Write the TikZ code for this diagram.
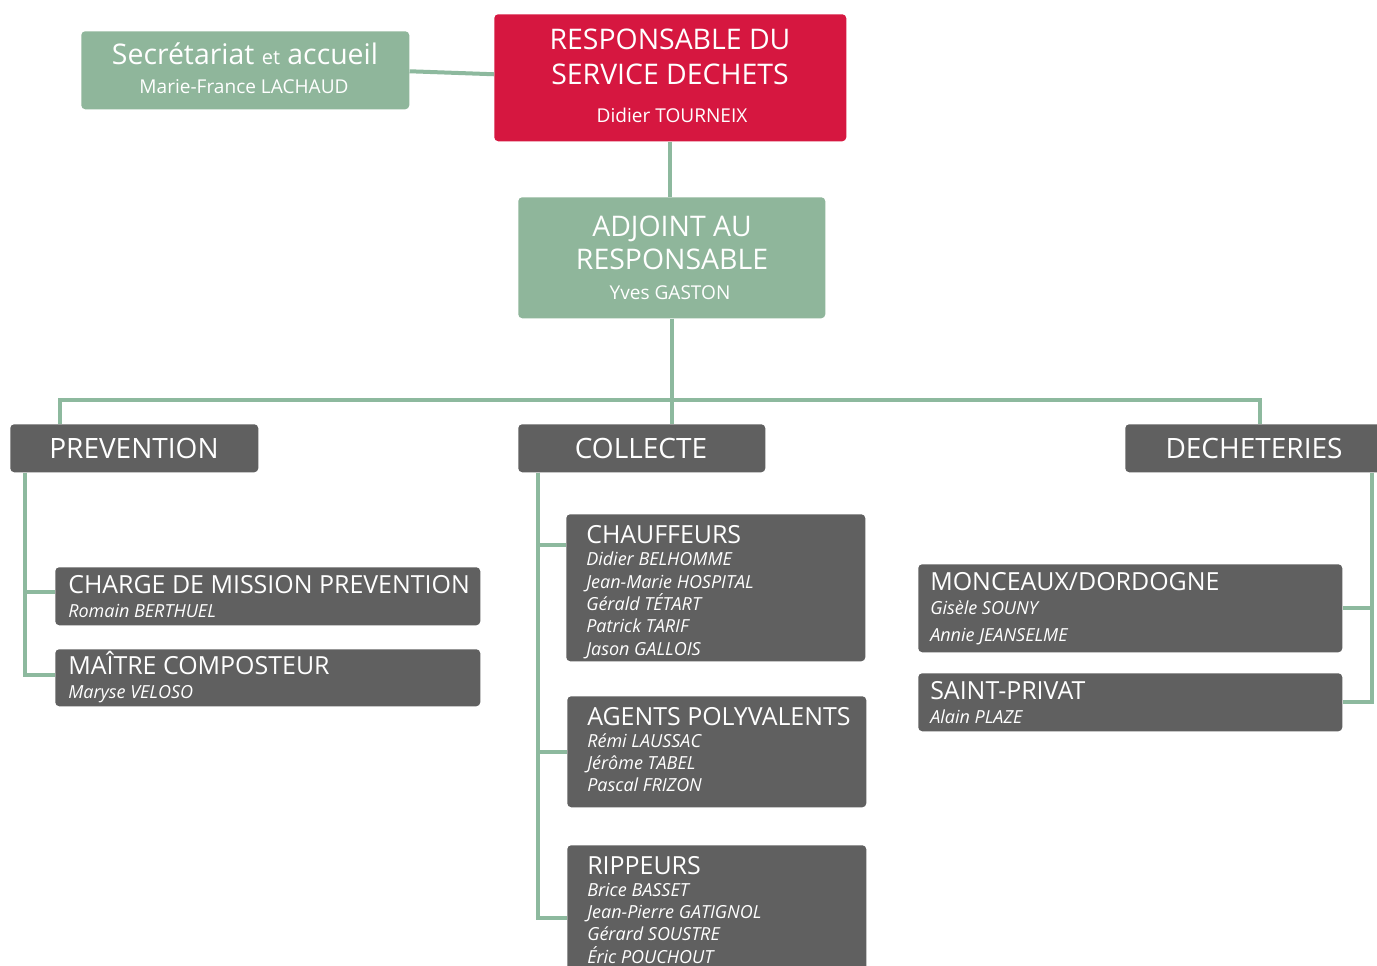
\documentclass[tikz,border=0pt]{standalone}
\usepackage{fontspec}
\setmainfont{Open Sans}
\usetikzlibrary{calc}
\definecolor{gfill}{HTML}{8FB69B}
\definecolor{rfill}{HTML}{D61740}
\definecolor{boxgray}{HTML}{606060}
\definecolor{linegreen}{HTML}{8DB99E}
\begin{document}
\begin{tikzpicture}[x=0.75pt,y=-0.75pt,
  box/.style={draw=none, rounded corners=3pt, inner sep=0pt, anchor=north west},
  gbox/.style={box, fill=boxgray},
  sz/.style 2 args={minimum width=#1*0.75pt, minimum height=#2*0.75pt},
  link/.style={draw=linegreen, line width=3pt},
  txt/.style={text=white, inner sep=0pt, anchor=base west},
  ctxt/.style={text=white, inner sep=0pt, anchor=base},
  big/.style={ctxt, font=\fontsize{21.3}{24}\selectfont},
  sub/.style={ctxt, font=\fontsize{14.3}{16}\selectfont},
  hdr/.style={ctxt, font=\fontsize{21}{24}\selectfont},
  ttl/.style={txt, font=\fontsize{18.7}{20}\selectfont},
  nm/.style={txt, font=\fontsize{13.5}{15}\selectfont\itshape},
]
\useasboundingbox[fill=white] (0,0) rectangle (1377,966);

% boxes
\node[box, fill=gfill, sz={328}{78}] (sec) at (81,31) {};
\node[box, fill=rfill, sz={352}{127}] (resp) at (494,14) {};
\node[box, fill=gfill, sz={307}{121}] (adj) at (518,197) {};
\node[gbox, sz={248}{48}] (prev) at (10,424) {};
\node[gbox, sz={247}{48}] (colle) at (518,424) {};
\node[gbox, sz={262}{48}] (dech) at (1125,424) {};
\node[gbox, sz={425}{58}] (charge) at (55,567) {};
\node[gbox, sz={425}{57}] (maitre) at (55,649) {};
\node[gbox, sz={299}{147}] (chauf) at (566,514) {};
\node[gbox, sz={299}{111}] (agents) at (567,696) {};
\node[gbox, sz={299}{140}] (rip) at (567,845) {};
\node[gbox, sz={424}{88}] (monc) at (918,564) {};
\node[gbox, sz={424}{58}] (sp) at (918,673) {};

% connectors
\draw[link] ($(sec.east)+(0,1)$) -- ($(resp.west)+(0,-3.5)$);
\draw[link] (resp.south) -- (resp.south |- adj.north);
\draw[link] (adj.south) -- (adj.south |- colle.north);
\coordinate (busy) at (0,400);
\draw[link] ($(prev.north west)+(50,0)$) |- (busy -| adj.south) -| ($(dech.north west)+(135,0)$);
\draw[link] ($(prev.south west)+(15,0)$) |- ($(maitre.north west)+(0,26)$);
\draw[link] ($(prev.south west)+(15,0)$) |- ($(charge.north west)+(0,25)$);
\draw[link] ($(colle.south west)+(20,0)$) |- ($(rip.north west)+(0,73)$);
\draw[link] ($(colle.south west)+(20,0)$) |- ($(chauf.north west)+(0,31)$);
\draw[link] ($(colle.south west)+(20,0)$) |- (agents.west);
\draw[link] ($(dech.south west)+(247,0)$) |- (sp.east);
\draw[link] ($(dech.south west)+(247,0)$) |- (monc.east);

% texts top
\node[big] (tsec) at (245,65) {Secrétariat {\fontsize{15}{17}\selectfont et} accueil};
\node[sub] (tsecn) at (244,94) {Marie-France LACHAUD};
\node[big] (tr1) at (670,50) {RESPONSABLE DU};
\node[big] (tr2) at (670,85) {SERVICE DECHETS};
\node[sub] (tr3) at (672,123) {Didier TOURNEIX};
\node[big] (ta1) at (672,237) {ADJOINT AU};
\node[big] (ta2) at (672,270) {RESPONSABLE};
\node[sub] (ta3) at (670,300) {Yves GASTON};

% headers
\node[hdr] (tprev) at (134,458) {PREVENTION};
\node[hdr] (tcolle) at (641,458) {COLLECTE};
\node[hdr] (tdech) at (1254,458) {DECHETERIES};

% prevention
\node[ttl] (tc1) at (68,593) {CHARGE DE MISSION PREVENTION};
\node[nm] (tc2) at (68,617) {Romain BERTHUEL};
\node[ttl] (tm1) at (68,674) {MAÎTRE COMPOSTEUR};
\node[nm] (tm2) at (68,698) {Maryse VELOSO};

% collecte
\node[ttl] (tch0) at (586,543) {CHAUFFEURS};
\node[nm] (tch1) at (586,565) {Didier BELHOMME};
\node[nm] (tch2) at (586,588) {Jean-Marie HOSPITAL};
\node[nm] (tch3) at (586,610) {Gérald TÉTART};
\node[nm] (tch4) at (586,632) {Patrick TARIF};
\node[nm] (tch5) at (586,655) {Jason GALLOIS};
\node[ttl] (tag0) at (587,725) {AGENTS POLYVALENTS};
\node[nm] (tag1) at (587,747) {Rémi LAUSSAC};
\node[nm] (tag2) at (587,769) {Jérôme TABEL};
\node[nm] (tag3) at (587,791) {Pascal FRIZON};
\node[ttl] (tri0) at (587,874) {RIPPEURS};
\node[nm] (tri1) at (587,896) {Brice BASSET};
\node[nm] (tri2) at (587,918) {Jean-Pierre GATIGNOL};
\node[nm] (tri3) at (587,940) {Gérard SOUSTRE};
\node[nm] (tri4) at (587,963) {Éric POUCHOUT};

% decheteries
\node[ttl] (tmo0) at (930,590) {MONCEAUX/DORDOGNE};
\node[nm] (tmo1) at (930,614) {Gisèle SOUNY};
\node[nm] (tmo2) at (930,641) {Annie JEANSELME};
\node[ttl] (tsp0) at (930,699) {SAINT-PRIVAT};
\node[nm] (tsp1) at (930,723) {Alain PLAZE};
\end{tikzpicture}
\end{document}
